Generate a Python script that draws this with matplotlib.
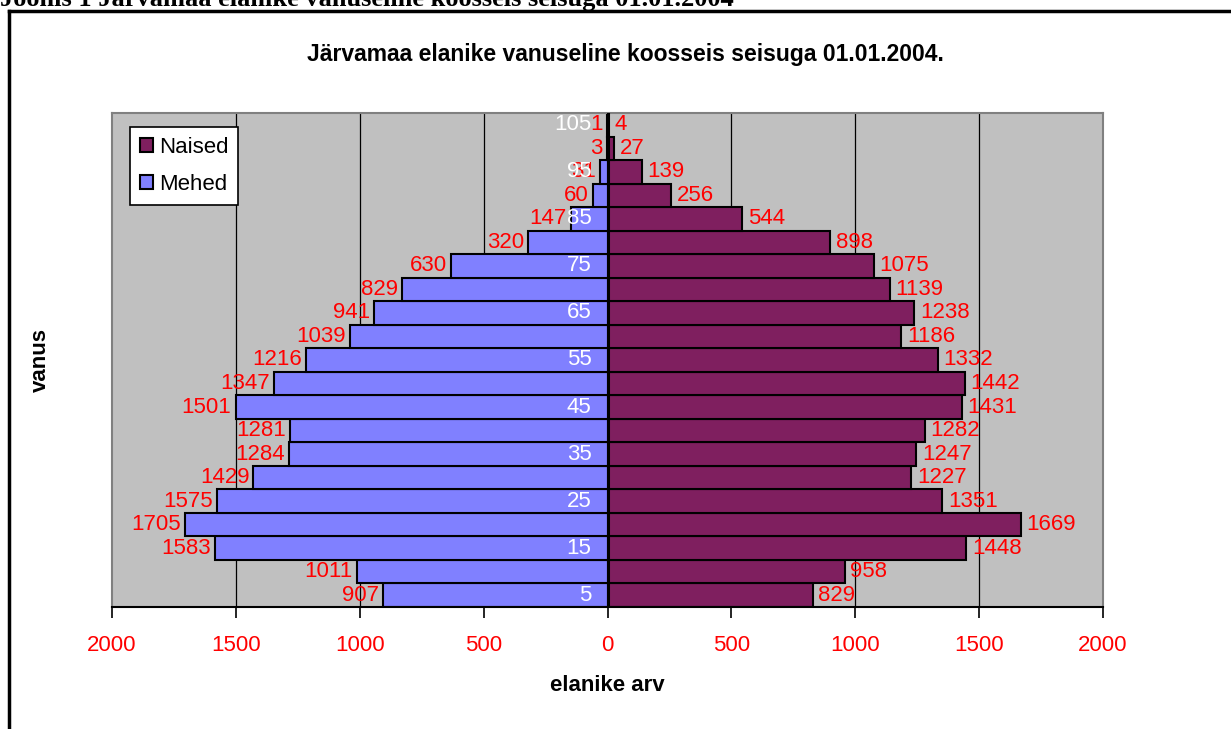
import numpy as np
import matplotlib
matplotlib.use("Agg")
import matplotlib.pyplot as plt
from matplotlib.lines import Line2D

plt.rcParams['font.family'] = ['Liberation Sans', 'DejaVu Sans']

# age groups, bottom to top
ages = [5, 10, 15, 20, 25, 30, 35, 40, 45, 50, 55, 60, 65, 70, 75, 80, 85, 90, 95, 100, 105]
mehed = [907, 1011, 1583, 1705, 1575, 1429, 1284, 1281, 1501, 1347, 1216, 1039, 941, 829, 630, 320, 147, 60, 31, 3, 1]
naised = [829, 958, 1448, 1669, 1351, 1227, 1247, 1282, 1431, 1442, 1332, 1186, 1238, 1139, 1075, 898, 544, 256, 139, 27, 4]
shown_ages = [5, 15, 25, 35, 45, 55, 65, 75, 85, 95, 105]
xticks = [-2000, -1500, -1000, -500, 0, 500, 1000, 1500, 2000]

fig = plt.figure(figsize=(12.31, 7.29), dpi=100)
ax = fig.add_axes([112 / 1231, 1 - 607 / 729, (1103 - 112) / 1231, (607 - 113) / 729])
ax.set_facecolor('#C0C0C0')

y = np.array(ages)
m = -np.array(mehed)
n = np.array(naised)

for gx in [-1500, -1000, -500, 500, 1000, 1500]:
    ax.axvline(gx, color='black', lw=0.9, zorder=0)

bn = ax.barh(y, n, height=5, color='#7F1F5F', edgecolor='black', lw=1.5, label='Naised', zorder=2)
bm = ax.barh(y, m, height=5, color='#8080FF', edgecolor='black', lw=1.5, label='Mehed', zorder=2)
ax.axvline(0, color='black', lw=2.2, zorder=3)

for yy, v in zip(ages, mehed):
    ax.annotate(str(v), xy=(-v, yy), xytext=(-3, 0), textcoords='offset points',
                ha='right', va='center', color='red', fontsize=16, zorder=4)
for yy, v in zip(ages, naised):
    ax.annotate(str(v), xy=(v, yy), xytext=(4, 0), textcoords='offset points',
                ha='left', va='center', color='red', fontsize=16, zorder=4)
for a in shown_ages:
    ax.annotate(str(a), xy=(0, a), xytext=(-11.5, 0), textcoords='offset points',
                ha='right', va='center', color='white', fontsize=16, zorder=5)

ax.set_xlim(-2000, 2000)
ax.set_ylim(2.5, 107.5)
ax.set_xticks(xticks)
ax.set_xticklabels([str(abs(t)) for t in xticks], color='red', fontsize=16)
ax.tick_params(axis='x', direction='out', length=8, width=1.2, color='black', pad=12)
ax.set_yticks([])
for s in ['top', 'left', 'right']:
    ax.spines[s].set_color('#808080')
    ax.spines[s].set_linewidth(1.5)
ax.spines['bottom'].set_color('black')
ax.spines['bottom'].set_linewidth(1.5)

ax.set_xlabel('elanike arv', fontsize=16, fontweight='bold', labelpad=14)
fig.text(40 / 1231, 1 - 360 / 729, 'vanus', rotation=90, ha='center', va='center',
         fontsize=16, fontweight='bold')
fig.text(625 / 1231, 1 - 55 / 729, 'Järvamaa elanike vanuseline koosseis seisuga 01.01.2004.',
         ha='center', va='center', fontsize=16.5, fontweight='bold')

leg = ax.legend(handles=[bn, bm], loc='upper left', bbox_to_anchor=(18 / 991, 1 - 14 / 494),
                borderaxespad=0, fontsize=16, frameon=True, fancybox=False, edgecolor='black',
                framealpha=1, handlelength=0.6, handleheight=0.6, handletextpad=0.25,
                labelspacing=0.7, borderpad=0.45)
leg.get_frame().set_linewidth(1.2)

# page caption and frame
fig.text(0, 1 - 6 / 729, 'Joonis 1 Järvamaa elanike vanuseline koosseis seisuga 01.01.2004',
         ha='left', va='baseline', fontsize=19, fontweight='bold',
         family=['Liberation Serif', 'DejaVu Serif'])
fig.add_artist(Line2D([9 / 1231, 1], [1 - 11 / 729, 1 - 11 / 729], color='black', lw=2.5))
fig.add_artist(Line2D([9 / 1231, 9 / 1231], [0, 1 - 11 / 729], color='black', lw=2.5))

fig.savefig('out.png', dpi=100)
